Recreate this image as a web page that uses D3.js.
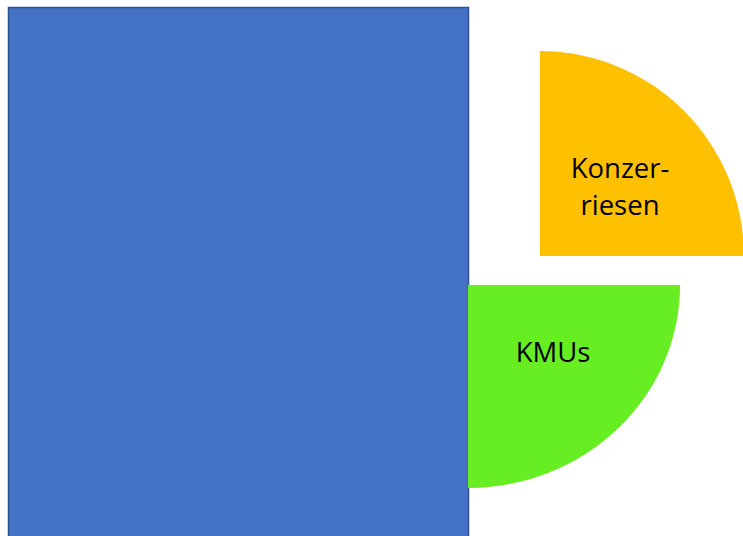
<!DOCTYPE html>
<html>
<head>
<meta charset="utf-8">
<script src="https://cdn.jsdelivr.net/npm/d3@7"></script>
<style>
  body { margin: 0; background: #fff; }
  svg { display: block; }
</style>
</head>
<body>
<div id="chart"></div>
<script>
// market shares (rough, read from the area of each shape)
const categories = ['Rest', 'Konzerriesen', 'KMUs']
const values = [79.3, 10.5, 10.5]
const labels = [[], ['Konzer-', 'riesen'], ['KMUs']]
const colors = ['#4472C4', '#FFC000', '#66EE22']

const width = 743
const height = 536

const svg = d3.select('#chart').append('svg')
  .attr('width', width)
  .attr('height', height)

// area per share unit, taken so that the big block fills the left side
const pxPerUnit = 3080
const area = d => d * pxPerUnit

// big block: fixed width, height from its area
const blockW = 460
const blockH = area(values[0]) / blockW
const x = d3.scaleLinear().domain([0, 1]).range([8.5, 8.5 + blockW])
const y = d3.scaleLinear().domain([0, 1]).range([7.5, 7.5 + blockH])

svg.append('rect')
  .attr('x', x(0))
  .attr('y', y(0))
  .attr('width', x(1) - x(0))
  .attr('height', y(1) - y(0))
  .style('fill', colors[0])
  .style('stroke', '#2F528F')
  .style('stroke-width', 1.5)

// quarter circles: radius from area (quarter of a circle)
const radius = d3.scaleSqrt().domain([0, values[1]]).range([0, Math.sqrt(4 * area(values[1]) / Math.PI)])
const arc = d3.arc().innerRadius(0).outerRadius(1)

const quarters = [
  {i: 1, cx: 540, cy: 256, sx: 1.005, sy: 1.01, a0: 0, a1: Math.PI / 2, tx: 620, ty: 178},
  {i: 2, cx: 468, cy: 285, sx: 1.045, sy: 1.0, a0: Math.PI / 2, a1: Math.PI, tx: 553, ty: 362}
]

quarters.forEach(q => {
  const r = radius(values[q.i])
  svg.append('path')
    .attr('d', arc({startAngle: q.a0, endAngle: q.a1}))
    .attr('transform', 'translate(' + q.cx + ',' + q.cy + ') scale(' + (r * q.sx) + ',' + (r * q.sy) + ')')
    .style('fill', colors[q.i])

  const t = svg.append('text')
    .attr('x', q.tx)
    .attr('y', q.ty)
    .attr('text-anchor', 'middle')
    .style('font-family', 'Open Sans, sans-serif')
    .style('font-size', '27.5px')
    .style('fill', '#000')
  labels[q.i].forEach((line, k) => {
    t.append('tspan').attr('x', q.tx).attr('dy', k === 0 ? 0 : 37).text(line)
  })
})
</script>
</body>
</html>
